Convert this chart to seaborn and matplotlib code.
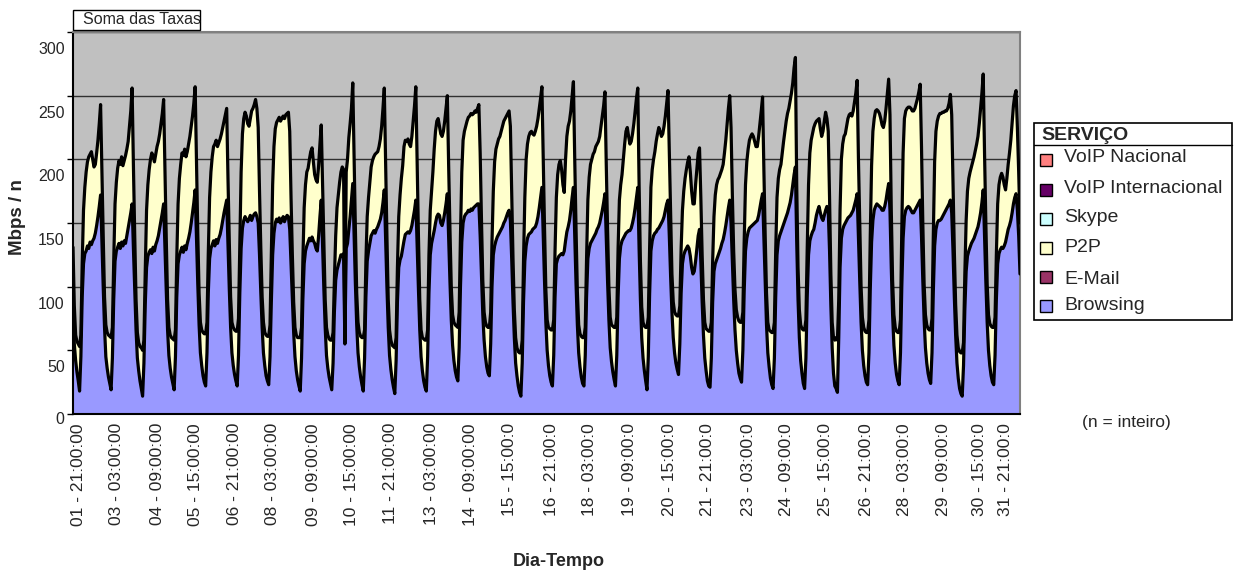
import numpy as np
import pandas as pd
import matplotlib
matplotlib.use("Agg")
import matplotlib.pyplot as plt
import matplotlib.transforms as mtransforms
from matplotlib.patches import Rectangle
import seaborn as sns

# hourly rates (Mbps / n). first row = end of the night before day 1, then one row per day
browsing = [
    75, 55, 42, 33, 26,
    18, 45, 92, 118, 126, 128, 132, 130, 135, 133, 136, 138, 142, 148, 155, 163, 172, 135, 100, 68, 45, 36, 29, 24,
    19, 44, 90, 120, 128, 131, 134, 130, 135, 132, 136, 134, 140, 146, 152, 158, 165, 130, 98, 66, 44, 34, 26, 20,
    14, 40, 86, 115, 124, 127, 129, 126, 131, 128, 133, 136, 140, 146, 152, 158, 165, 130, 97, 66, 46, 36, 29, 24,
    19, 45, 92, 118, 125, 128, 131, 127, 132, 129, 134, 138, 143, 150, 158, 166, 176, 138, 102, 70, 48, 38, 30, 25,
    22, 48, 95, 122, 130, 133, 136, 132, 137, 134, 138, 141, 146, 152, 158, 163, 168, 132, 98, 68, 48, 38, 31, 26,
    22, 46, 95, 130, 146, 152, 155, 153, 151, 153, 156, 152, 155, 157, 158, 155, 150, 125, 95, 68, 48, 38, 30, 26,
    23, 45, 88, 125, 142, 150, 153, 151, 154, 150, 152, 155, 151, 154, 156, 155, 145, 118, 90, 64, 45, 34, 27, 22,
    18, 44, 90, 118, 128, 132, 135, 138, 136, 139, 136, 134, 130, 128, 140, 155, 168, 132, 98, 68, 46, 36, 29, 24,
    19, 40, 80, 105, 113, 117, 121, 125, 124, 126, 55, 130, 134, 145, 155, 168, 181, 140, 102, 70, 48, 37, 29, 23,
    18, 44, 92, 120, 128, 134, 140, 142, 144, 142, 145, 147, 150, 153, 158, 166, 176, 138, 100, 68, 46, 35, 27, 21,
    16, 42, 88, 115, 121, 124, 130, 136, 141, 142, 143, 142, 144, 148, 154, 160, 168, 132, 98, 66, 45, 34, 26, 21,
    18, 45, 95, 125, 134, 139, 144, 150, 155, 157, 156, 150, 148, 152, 158, 165, 173, 138, 104, 74, 54, 42, 34, 29,
    26, 52, 100, 135, 150, 155, 157, 158, 160, 159, 161, 160, 162, 163, 164, 165, 165, 140, 108, 78, 58, 45, 37, 32,
    30, 55, 100, 125, 132, 136, 139, 141, 143, 145, 147, 150, 152, 155, 158, 160, 152, 122, 88, 60, 40, 30, 22, 17,
    14, 40, 88, 120, 132, 138, 141, 142, 143, 145, 146, 147, 150, 155, 162, 170, 178, 140, 104, 72, 50, 38, 30, 25,
    22, 46, 92, 118, 122, 124, 125, 126, 125, 128, 136, 143, 147, 152, 160, 170, 178, 140, 102, 70, 48, 37, 29, 24,
    22, 46, 92, 122, 130, 134, 136, 138, 140, 142, 145, 147, 150, 155, 160, 166, 173, 138, 104, 74, 52, 41, 33, 27,
    22, 46, 92, 122, 132, 136, 138, 140, 142, 143, 144, 144, 146, 150, 155, 162, 170, 178, 130, 90, 60, 44, 34, 26,
    19, 45, 94, 128, 136, 140, 142, 143, 145, 146, 148, 150, 152, 155, 160, 165, 168, 140, 108, 80, 60, 48, 40, 35,
    31, 55, 95, 118, 125, 128, 130, 132, 130, 124, 115, 110, 112, 120, 130, 140, 145, 120, 88, 62, 44, 34, 26, 22,
    21, 44, 88, 112, 118, 121, 124, 127, 130, 134, 137, 142, 148, 155, 162, 168, 150, 120, 90, 66, 50, 40, 32, 28,
    25, 50, 96, 128, 138, 143, 146, 147, 148, 149, 150, 151, 152, 156, 162, 168, 173, 138, 102, 70, 48, 37, 28, 23,
    20, 44, 92, 125, 136, 140, 143, 146, 149, 152, 155, 158, 162, 166, 172, 180, 188, 194, 135, 90, 60, 42, 32, 24,
    20, 44, 92, 125, 136, 140, 143, 145, 150, 156, 160, 163, 158, 154, 152, 156, 160, 163, 160, 128, 85, 52, 32, 22,
    20, 17, 60, 115, 138, 145, 148, 150, 152, 154, 155, 156, 158, 160, 164, 168, 173, 138, 104, 72, 50, 38, 30, 25,
    23, 48, 98, 135, 152, 160, 163, 165, 164, 163, 162, 160, 160, 163, 168, 175, 181, 160, 115, 78, 54, 40, 31, 26,
    23, 48, 100, 138, 155, 160, 162, 163, 162, 160, 158, 158, 160, 162, 164, 166, 168, 140, 105, 74, 52, 40, 32, 27,
    24, 48, 96, 132, 145, 150, 152, 152, 153, 155, 157, 159, 161, 163, 165, 168, 158, 128, 92, 62, 40, 28, 20, 16,
    14, 38, 82, 112, 124, 128, 131, 134, 136, 138, 141, 144, 147, 152, 158, 166, 176, 140, 104, 72, 50, 38, 30, 25,
    23, 46, 90, 118, 126, 129, 131, 130, 132, 135, 140, 145, 148, 152, 158, 165, 170, 173, 160, 140, 110,
]

p2p = [
    56, 30, 20, 24, 29,
    35, 17, 26, 42, 52, 62, 66, 72, 69, 73, 64, 56, 54, 57, 60, 65, 71, 55, 40, 24, 25, 28, 33, 37,
    41, 24, 30, 45, 54, 62, 65, 66, 67, 63, 63, 69, 68, 68, 74, 80, 91, 65, 42, 24, 20, 22, 27, 32,
    36, 18, 26, 45, 56, 65, 71, 79, 71, 70, 71, 74, 74, 74, 76, 78, 82, 62, 41, 24, 22, 26, 31, 35,
    39, 21, 30, 47, 60, 68, 74, 76, 76, 73, 72, 74, 75, 76, 76, 78, 81, 60, 40, 25, 24, 28, 34, 38,
    41, 24, 31, 48, 60, 69, 74, 80, 78, 76, 75, 75, 74, 73, 72, 72, 72, 53, 37, 24, 24, 30, 35, 39,
    43, 29, 40, 60, 74, 80, 82, 81, 77, 73, 76, 86, 85, 86, 89, 85, 75, 50, 35, 24, 24, 26, 32, 35,
    38, 25, 37, 55, 68, 74, 76, 80, 79, 80, 80, 79, 81, 81, 80, 82, 77, 52, 35, 24, 23, 28, 33, 38,
    42, 24, 30, 44, 52, 58, 58, 62, 70, 70, 62, 54, 54, 54, 55, 57, 59, 48, 37, 22, 22, 26, 30, 34,
    39, 24, 25, 35, 49, 55, 61, 65, 70, 66, 1, 60, 66, 72, 73, 72, 79, 60, 43, 25, 24, 27, 32, 37,
    42, 22, 28, 35, 42, 48, 54, 57, 58, 62, 60, 59, 60, 63, 68, 74, 80, 58, 40, 22, 20, 23, 27, 32,
    36, 18, 27, 40, 51, 61, 65, 74, 74, 72, 73, 70, 66, 70, 76, 82, 89, 64, 42, 24, 21, 26, 33, 37,
    40, 21, 30, 35, 41, 51, 64, 72, 75, 75, 70, 70, 70, 70, 72, 75, 77, 57, 41, 26, 24, 30, 36, 40,
    42, 28, 40, 55, 65, 67, 69, 72, 73, 75, 75, 75, 74, 75, 73, 75, 78, 65, 44, 27, 22, 27, 32, 36,
    38, 25, 35, 50, 66, 72, 73, 75, 75, 77, 79, 80, 80, 79, 78, 78, 74, 50, 34, 22, 20, 22, 27, 31,
    34, 18, 32, 50, 68, 74, 77, 79, 79, 75, 73, 75, 76, 77, 78, 78, 79, 60, 42, 26, 24, 30, 37, 41,
    44, 28, 36, 52, 66, 72, 74, 66, 55, 46, 64, 75, 79, 78, 78, 80, 83, 60, 43, 26, 22, 26, 32, 36,
    38, 22, 30, 46, 56, 62, 64, 66, 66, 68, 67, 67, 68, 71, 74, 76, 80, 58, 41, 26, 24, 29, 36, 41,
    46, 30, 38, 46, 48, 52, 62, 72, 80, 82, 74, 68, 68, 70, 73, 76, 78, 78, 50, 30, 24, 28, 35, 42,
    49, 31, 36, 50, 56, 60, 64, 71, 75, 79, 74, 68, 68, 71, 74, 79, 86, 65, 47, 30, 28, 32, 38, 42,
    46, 30, 35, 42, 50, 57, 62, 66, 72, 66, 60, 55, 53, 60, 62, 65, 64, 50, 37, 28, 28, 33, 40, 43,
    44, 28, 32, 43, 54, 59, 60, 59, 59, 58, 59, 63, 67, 73, 78, 82, 75, 52, 38, 32, 32, 36, 41, 44,
    47, 30, 39, 52, 60, 65, 69, 71, 72, 69, 64, 59, 58, 62, 66, 70, 76, 54, 38, 25, 24, 29, 37, 41,
    44, 28, 36, 45, 49, 52, 53, 59, 65, 70, 75, 78, 78, 80, 80, 80, 84, 86, 45, 25, 22, 28, 35, 42,
    46, 30, 38, 55, 69, 75, 77, 80, 78, 74, 71, 69, 66, 64, 70, 74, 77, 69, 62, 42, 25, 20, 28, 36,
    40, 41, 30, 45, 62, 67, 70, 70, 74, 78, 80, 80, 76, 78, 81, 84, 89, 62, 44, 28, 26, 30, 35, 39,
    41, 26, 42, 60, 70, 72, 75, 74, 74, 73, 70, 67, 65, 67, 72, 77, 82, 75, 45, 27, 24, 28, 34, 38,
    41, 26, 45, 67, 77, 78, 78, 78, 79, 80, 80, 80, 80, 82, 84, 87, 91, 70, 45, 28, 26, 30, 35, 39,
    42, 27, 44, 66, 77, 80, 82, 84, 83, 82, 80, 79, 77, 77, 79, 83, 77, 52, 36, 24, 22, 24, 29, 32,
    34, 18, 28, 40, 51, 57, 59, 60, 62, 64, 66, 68, 71, 76, 82, 86, 91, 65, 46, 30, 28, 33, 39, 43,
    45, 30, 35, 47, 54, 57, 58, 56, 48, 41, 45, 51, 57, 63, 70, 77, 80, 81, 65, 50, 40,
]

tick_labels = [
    "01 - 21:00:00", "03 - 03:00:00", "04 - 09:00:00", "05 - 15:00:00", "06 - 21:00:00",
    "08 - 03:00:00", "09 - 09:00:00", "10 - 15:00:00", "11 - 21:00:00", "13 - 03:00:00",
    "14 - 09:00:00", "15 - 15:00:0", "16 - 21:00:0", "18 - 03:00:0", "19 - 09:00:0",
    "20 - 15:00:0", "21 - 21:00:0", "23 - 03:00:0", "24 - 09:00:0", "25 - 15:00:0",
    "26 - 21:00:0", "28 - 03:00:0", "29 - 09:00:0", "30 - 15:00:0", "31 - 21:00:0",
]
tick_pos = [4, 33, 64, 93, 123, 152, 183, 212, 242, 273, 303, 332, 364,
            393, 424, 454, 483, 514, 543, 573, 604, 633, 663, 690, 710]

servicos = ["VoIP Nacional", "VoIP Internacional", "Skype", "P2P", "E-Mail", "Browsing"]
cores = ["#FF8080", "#660066", "#CCFFFF", "#FFFFCC", "#993366", "#9999FF"]

sns.set_style("white")
plt.rcParams["font.family"] = ["Liberation Sans", "DejaVu Sans"]

df = pd.DataFrame({"hora": np.arange(len(browsing)), "Browsing": browsing, "P2P": p2p})
df["Soma"] = df["Browsing"] + df["P2P"]

W, H = 1239, 576
fig = plt.figure(figsize=(W / 100, H / 100), dpi=100)
ax = fig.add_axes([73 / W, 1 - 414 / H, 947 / W, 382 / H])
ax.set_facecolor("#C0C0C0")

ax.stackplot(df["hora"], df["Browsing"], df["P2P"], colors=["#9999FF", "#FFFFCC"],
             linewidth=0, zorder=2)
sns.lineplot(data=df, x="hora", y="Browsing", color="black", linewidth=2.3, ax=ax, zorder=3)
sns.lineplot(data=df, x="hora", y="Soma", color="black", linewidth=2.3, ax=ax, zorder=3)

ax.set_xlim(0, len(browsing) - 1)
ax.set_ylim(0, 300)
ax.set_yticks(range(0, 301, 50))
ax.yaxis.grid(True, color="#303030", linewidth=1.0)
ax.xaxis.grid(False)
ax.set_axisbelow(True)
ax.tick_params(axis="y", left=True, direction="out", length=4, width=1, color="black",
               labelsize=11.5, pad=2)
ax.set_xticks(tick_pos)
ax.set_xticklabels(tick_labels, rotation=90, fontsize=12.5)
ax.tick_params(axis="x", bottom=False, length=0, pad=6.5)

# excel drew the value labels a bit below their ticks
for lbl in ax.get_yticklabels():
    dy = -4 if lbl.get_text() == "0" else -16
    lbl.set_transform(lbl.get_transform() + mtransforms.ScaledTranslation(0, dy / 100, fig.dpi_scale_trans))

for s in ["left", "bottom"]:
    ax.spines[s].set_color("black")
    ax.spines[s].set_linewidth(1.5)
for s in ["top", "right"]:
    ax.spines[s].set_color("#808080")
    ax.spines[s].set_linewidth(1.5)

ax.set_xlabel("")
ax.set_ylabel("")
fig.text(18 / W, 1 - 217 / H, "Mbps / n", rotation=90, fontsize=13.5, fontweight="bold",
         ha="center", va="center")
fig.text(559 / W, 1 - 562 / H, "Dia-Tempo", fontsize=13, fontweight="bold",
         ha="center", va="center")

# page field box
fig.add_artist(Rectangle((73 / W, 1 - 29.5 / H), 127 / W, 20 / H, transform=fig.transFigure,
                         facecolor="white", edgecolor="black", linewidth=1))
fig.text(83 / W, 1 - 19.5 / H, "Soma das Taxas", fontsize=11.5, ha="left", va="center")

# legend box, drawn in pixel units
lax = fig.add_axes([1034 / W, 1 - 320 / H, 198 / W, 197 / H])
lax.set_xlim(1034, 1232)
lax.set_ylim(320, 123)
lax.axis("off")
lax.add_patch(Rectangle((1034, 123), 198, 197, facecolor="white", edgecolor="black",
                        linewidth=1.2, clip_on=False))
lax.plot([1034, 1232], [145, 145], color="black", linewidth=1, clip_on=False)
lax.text(1041, 135, "SERVIÇO", fontsize=14, fontweight="bold", va="center", ha="left")
ys_txt = [157, 188, 218, 248, 280, 305]
ys_box = [160, 190, 219, 248, 277, 306]
for nome, cor, yt, yb in zip(servicos, cores, ys_txt, ys_box):
    lax.add_patch(Rectangle((1040, yb - 6), 12, 12, facecolor=cor, edgecolor="black",
                            linewidth=1, clip_on=False))
    lax.text(1064, yt, nome, fontsize=14, va="center", ha="left")

fig.text(1126 / W, 1 - 423 / H, "(n = inteiro)", fontsize=12.5, ha="center", va="center")

fig.savefig("out.png", dpi=100)
